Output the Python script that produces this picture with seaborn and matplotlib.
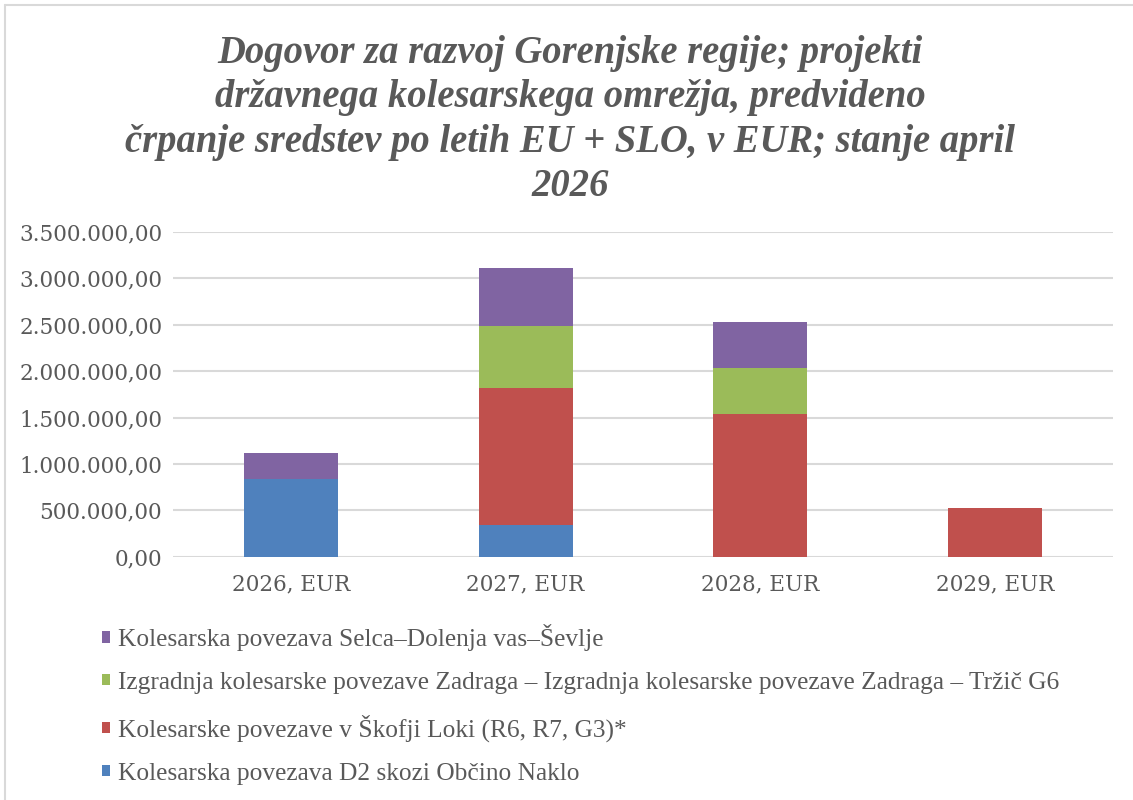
import numpy as np
import pandas as pd
import seaborn as sns
import matplotlib.pyplot as plt
from matplotlib.patches import Patch
from matplotlib.lines import Line2D
from matplotlib.ticker import FuncFormatter

sns.set_style('white')

years = ['2026, EUR', '2027, EUR', '2028, EUR', '2029, EUR']
naklo = [840000, 342000, 0, 0]
skofja_loka = [0, 1477000, 1538000, 525000]
zadraga = [0, 668000, 496000, 0]
selca = [278000, 625000, 496000, 0]

labels = [
    'Kolesarska povezava D2 skozi Občino Naklo',
    'Kolesarske povezave v Škofji Loki (R6, R7, G3)*',
    'Izgradnja kolesarske povezave Zadraga – Izgradnja kolesarske povezave Zadraga – Tržič G6',
    'Kolesarska povezava Selca–Dolenja vas–Ševlje',
]
colors = ['#4F81BD', '#C0504D', '#9BBB59', '#8064A2']
title = ('Dogovor za razvoj Gorenjske regije; projekti\n'
         'državnega kolesarskega omrežja, predvideno\n'
         'črpanje sredstev po letih EU + SLO, v EUR; stanje april\n'
         '2026')

grey = '#595959'

fig = plt.figure(figsize=(11.33, 8), dpi=100)
ax = fig.add_axes([0.153, 0.304, 0.829, 0.406])

bottom = np.zeros(len(years))
for vals, col, lab in zip([naklo, skofja_loka, zadraga, selca], colors, labels):
    sns.barplot(x=years, y=vals, bottom=bottom, color=col, width=0.4,
                errorbar=None, ax=ax, label=lab, saturation=1, zorder=3,
                linewidth=0, edgecolor='none')
    bottom = bottom + np.array(vals)

ax.set_ylim(0, 3500000)
ax.set_yticks(np.arange(0, 3500001, 500000))
ax.yaxis.set_major_formatter(FuncFormatter(
    lambda v, p: f'{v:,.2f}'.replace(',', ' ').replace('.', ',').replace(' ', '.')))
ax.grid(axis='y', color='#D9D9D9', lw=1.5, zorder=0)
ax.grid(axis='x', visible=False)
sns.despine(ax=ax, left=True, bottom=True)
ax.set_xlabel('')
ax.set_ylabel('')
ax.tick_params(length=0, colors=grey, labelsize=15.5)
ax.tick_params(axis='y', pad=8)
ax.tick_params(axis='x', pad=12)
for t in ax.get_xticklabels() + ax.get_yticklabels():
    t.set_fontfamily('DejaVu Serif')
ax.set_xlim(-0.5, 3.5)

if ax.get_legend() is not None:
    ax.get_legend().remove()

# baseline alignment refers to the last line ("2026")
fig.text(0.503, 1 - 196 / 800, title, ha='center', va='baseline', fontsize=27.8,
         fontweight='bold', fontstyle='italic', family='Liberation Serif',
         color=grey, linespacing=1.265, multialignment='center')

handles = [Patch(facecolor=c, edgecolor='none') for c in colors][::-1]
fig.legend(handles, labels[::-1], loc='upper left',
           bbox_to_anchor=(0.079, 0.236), frameon=False, borderpad=0,
           handlelength=0.32, handleheight=0.32, handletextpad=0.3,
           labelspacing=0.82, prop={'family': 'Liberation Serif', 'size': 18.3},
           labelcolor=grey)

# chart border (top and left edges visible)
fig.add_artist(Line2D([5 / 1133, 5 / 1133], [0, 1 - 5 / 800], color='#D9D9D9', lw=1.5))
fig.add_artist(Line2D([5 / 1133, 1], [1 - 5 / 800, 1 - 5 / 800], color='#D9D9D9', lw=1.5))

fig.savefig('out.png', dpi=100)
